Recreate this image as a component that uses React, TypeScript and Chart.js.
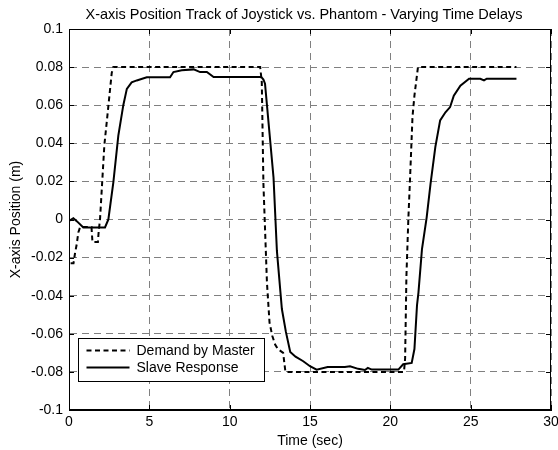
import React, { useEffect, useRef } from "react";
import { Chart, registerables } from "chart.js";

Chart.register(...registerables);

const TITLE = "X-axis Position Track of Joystick vs. Phantom - Varying Time Delays";
const X_LABEL = "Time (sec)";
const Y_LABEL = "X-axis Position (m)";
const SERIES_NAMES = ["Demand by Master", "Slave Response"];

const xTicks = [0, 5, 10, 15, 20, 25, 30];
const yTicks = [-0.1, -0.08, -0.06, -0.04, -0.02, 0, 0.02, 0.04, 0.06, 0.08, 0.1];

// Demand by Master (dashed)
const demandTime = [
  0.1, 0.28, 0.37, 0.48, 0.58, 0.69, 1.4, 1.46, 1.8, 1.85, 1.93, 2.2, 2.42, 2.66, 2.76,
  11.9, 12.0, 12.1, 12.32, 12.48, 12.65, 12.83, 13.0, 13.33, 13.4, 13.47,
  20.85, 20.92, 21.0, 21.12, 21.22, 21.38, 21.5, 21.72, 27.85,
];
const demandPos = [
  -0.023, -0.023, -0.018, -0.013, -0.0068, -0.004, -0.004, -0.0118, -0.0118, -0.006, 0.0, 0.039, 0.057, 0.077, 0.08,
  0.08, 0.072, 0.019, -0.033, -0.054, -0.061, -0.0656, -0.068, -0.07, -0.075, -0.08,
  -0.08, -0.073, -0.03, 0.0, 0.02, 0.054, 0.065, 0.08, 0.08,
];

// Slave Response (solid)
const slaveTime = [
  0, 0.27, 0.5, 0.89, 2.24, 2.45, 2.76, 3.07, 3.38, 3.6, 3.9, 4.22, 4.84, 6.29, 6.5, 7.02, 7.76, 8.16, 8.58, 9.0,
  11.9, 12.0, 12.1, 12.2, 12.73, 12.94, 13.25, 13.5, 13.77, 14.1, 14.58, 15.0, 15.41, 16.1, 17.17, 17.49, 18.0,
  18.42, 18.6, 18.84, 20.5, 20.8, 21.33, 21.5, 21.66, 21.75, 21.97, 22.26, 22.5, 22.8, 23.1, 23.43, 23.72, 23.95,
  24.36, 24.9, 25.6, 25.83, 26.0, 27.85,
];
const slavePos = [
  -0.0007, 0.0007, -0.001, -0.0042, -0.0042, 0.0, 0.0195, 0.044, 0.06, 0.0686, 0.072, 0.073, 0.0747, 0.0747, 0.0774,
  0.0783, 0.0788, 0.0774, 0.0774, 0.0748,
  0.0748, 0.0745, 0.0735, 0.0713, 0.022, -0.0165, -0.047, -0.059, -0.0695, -0.072, -0.0744, -0.077, -0.0788, -0.0774,
  -0.0774, -0.077, -0.0784, -0.079, -0.0779, -0.0788, -0.0788, -0.076, -0.0753, -0.068, -0.045, -0.0384, -0.0155,
  0.001, 0.0186, 0.038, 0.052, 0.0563, 0.059, 0.065, 0.0702, 0.0739, 0.0739, 0.073, 0.0739, 0.0739,
];

const FONT = "'Liberation Sans', Arial, Helvetica, sans-serif";

const toPoints = (xs: number[], ys: number[]) => xs.map((x, i) => ({ x, y: ys[i] }));

const fmt = (v: number) => String(parseFloat(v.toFixed(2)));

const boxPlugin = {
  id: "matlabBox",
  afterDraw(chart: any) {
    const { ctx, chartArea } = chart;
    const { left, right, top, bottom } = chartArea;
    const xs = chart.scales.x;
    const ys = chart.scales.y;
    ctx.save();
    ctx.setLineDash([]);
    ctx.strokeStyle = "#000";
    ctx.lineWidth = 1;
    // title centred over the axes
    ctx.fillStyle = "#000";
    ctx.font = `14.5px ${FONT}`;
    ctx.textAlign = "center";
    ctx.textBaseline = "middle";
    ctx.fillText(TITLE, (left + right) / 2 - 6, 14.5);
    // box
    ctx.strokeRect(Math.round(left) + 0.5, Math.round(top) + 0.5, Math.round(right - left) - 1, Math.round(bottom - top) - 1);
    // inward ticks
    const tl = 5;
    ctx.beginPath();
    xTicks.forEach((v) => {
      const px = Math.round(xs.getPixelForValue(v)) + 0.5;
      ctx.moveTo(px, bottom);
      ctx.lineTo(px, bottom - tl);
      ctx.moveTo(px, top);
      ctx.lineTo(px, top + tl);
    });
    yTicks.forEach((v) => {
      const py = Math.round(ys.getPixelForValue(v)) + 0.5;
      ctx.moveTo(left, py);
      ctx.lineTo(left + tl, py);
      ctx.moveTo(right, py);
      ctx.lineTo(right - tl, py);
    });
    ctx.stroke();

    // legend
    const x0 = 78.5, y0 = 338.5, w = 186, h = 43;
    ctx.fillStyle = "#fff";
    ctx.fillRect(x0, y0, w, h);
    ctx.strokeRect(x0, y0, w, h);
    chart.data.datasets.forEach((ds: any, i: number) => {
      const y = y0 + 12 + i * 17;
      ctx.beginPath();
      ctx.setLineDash(ds.borderDash || []);
      ctx.lineWidth = ds.borderWidth;
      ctx.moveTo(x0 + 8, y);
      ctx.lineTo(x0 + 51, y);
      ctx.stroke();
      ctx.setLineDash([]);
      ctx.fillStyle = "#000";
      ctx.font = `14px ${FONT}`;
      ctx.textBaseline = "middle";
      ctx.textAlign = "left";
      ctx.fillText(ds.label, x0 + 58, y + 0.5);
    });
    ctx.restore();
  },
};

export default function App() {
  const ref = useRef<HTMLCanvasElement | null>(null);
  useEffect(() => {
    document.body.style.margin = "0";
    const canvas = ref.current;
    if (!canvas) return;
    const font = { family: FONT, size: 14, weight: "normal" as const };
    const chart = new Chart(canvas, {
      type: "line",
      data: {
        datasets: [
          {
            label: SERIES_NAMES[0],
            data: toPoints(demandTime, demandPos),
            borderColor: "#000",
            borderWidth: 2,
            borderDash: [5, 3.5],
            pointRadius: 0,
            fill: false,
            tension: 0,
          },
          {
            label: SERIES_NAMES[1],
            data: toPoints(slaveTime, slavePos),
            borderColor: "#000",
            borderWidth: 2,
            pointRadius: 0,
            fill: false,
            tension: 0,
          },
        ],
      },
      options: {
        animation: false,
        responsive: false,
        devicePixelRatio: 1,
        layout: { padding: { left: 0, right: 7, top: 29, bottom: 0 } },
        plugins: {
          legend: { display: false },
          tooltip: { enabled: false },
          title: { display: false },
        },
        scales: {
          x: {
            type: "linear",
            min: 0,
            max: 30,
            afterBuildTicks: (s: any) => {
              s.ticks = xTicks.map((value) => ({ value }));
            },
            afterFit: (s: any) => {
              s.height = 40;
              s.paddingLeft = 0;
              s.paddingRight = 0;
            },
            grid: { color: "#808080", lineWidth: 1, drawTicks: false, tickLength: 0 },
            border: { display: true, color: "#000", width: 1, dash: [7, 5] },
            ticks: {
              color: "#000",
              font,
              padding: 4,
              maxRotation: 0,
              autoSkip: false,
              callback: (v: any) => fmt(Number(v)),
            },
            title: { display: true, text: X_LABEL, color: "#000", font, padding: { top: 0, bottom: 0 } },
          },
          y: {
            type: "linear",
            min: -0.1,
            max: 0.1,
            afterBuildTicks: (s: any) => {
              s.ticks = yTicks.map((value) => ({ value }));
            },
            afterFit: (s: any) => {
              s.width = 69;
              s.paddingTop = 0;
              s.paddingBottom = 0;
            },
            grid: { color: "#808080", lineWidth: 1, drawTicks: false, tickLength: 0 },
            border: { display: true, color: "#000", width: 1, dash: [7, 5] },
            ticks: {
              color: "#000",
              font,
              padding: 6,
              autoSkip: false,
              callback: (v: any) => fmt(Number(v)),
            },
            title: { display: true, text: Y_LABEL, color: "#000", font, padding: { top: 8, bottom: 0 } },
          },
        },
      },
      plugins: [boxPlugin],
    } as any);
    return () => chart.destroy();
  }, []);
  return (
    <div style={{ width: 558, height: 450, background: "#fff" }}>
      <canvas ref={ref} width={558} height={450} style={{ display: "block" }} />
    </div>
  );
}
